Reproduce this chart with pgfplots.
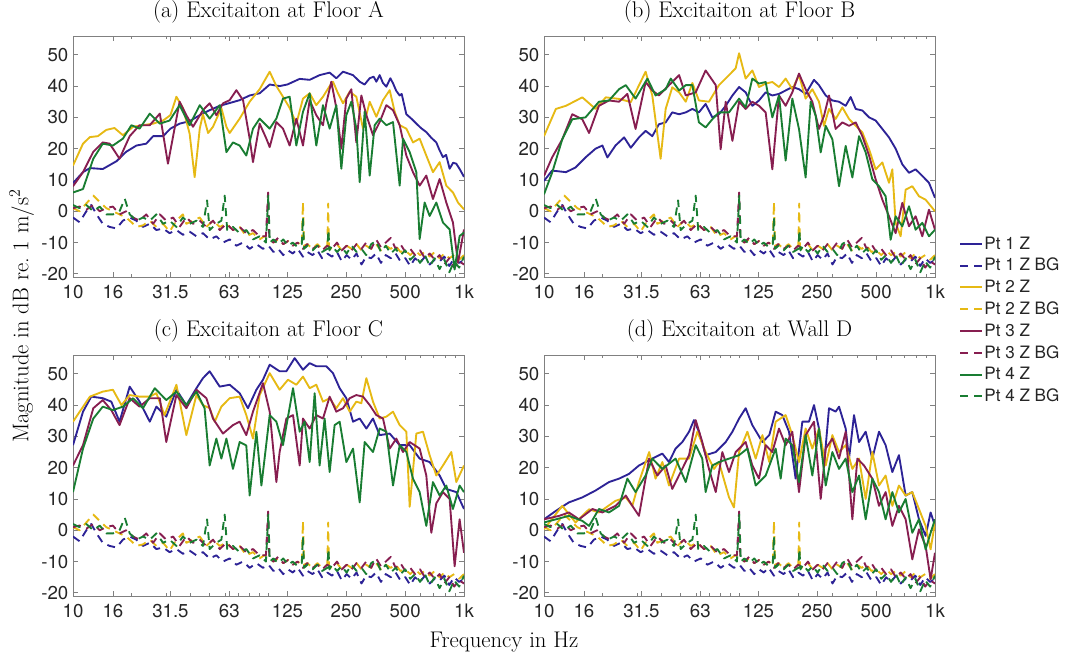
\documentclass[border=0pt]{standalone}
\usepackage{fontspec}
\newfontfamily\hv{TeX Gyre Heros}
\usepackage{pgfplots}
\usepackage{pgfplotstable}
\pgfplotsset{compat=1.18}
\definecolor{ptblue}{RGB}{45,35,150}
\definecolor{ptyellow}{RGB}{230,185,20}
\definecolor{ptmaroon}{RGB}{135,30,80}
\definecolor{ptgreen}{RGB}{25,125,50}

\pgfplotstableread{
f v
10 -2
10.8 -3.5
11.7 0
12.4 2
13.2 -1
14.2 -4
15.4 -5
16.7 -5.5
18 -3
19.5 -2
21.1 -3
22.8 -5
24.7 -4
26.7 -6
28.9 -5.5
31.2 -7
33.8 -6
36.5 -7.5
39.5 -6.5
42.8 -8
46.2 -7
50 -9
54.1 -8
58.5 -10
63.3 -9
68.5 -11
74.1 -10
80.1 -12
86.7 -10.5
93.7 -12
100 -11
106 -13
112 -12
119 -14
126 -12.5
133 -13.5
141 -12
150 -14.5
158 -13
168 -14
178 -12.5
188 -15
200 -13.5
211 -14.5
224 -13
237 -16
251 -14
266 -15.5
282 -13.5
299 -17
316 -14.5
335 -15
355 -13.5
376 -16.5
398 -14
422 -15
447 -13.5
473 -16
501 -15
531 -17.5
562 -15
596 -16.5
631 -14.5
668 -17
708 -15.5
750 -16
794 -14.5
841 -17.5
891 -15
944 -16.5
1000 -15.5
}\bgA

\pgfplotstableread{
f v
10 1
10.8 0
11.7 2.5
12.7 5
13.7 3
14.8 1
16 0
17.3 -1
18.7 -2
19.9 -3.5
21.1 -5
22.8 -4.5
24.7 -3
26.7 -5
28.9 -4
31.2 -6.5
33.8 -3
36.5 -1
38 -4
41.1 -3
44.5 -2
48.1 -5
52 -3
56.3 -5
60.9 -4
65.8 -6
71.2 -5
77 -8
83.3 -7
90.1 -9
95 -8
100 -8.5
106 -10
112 -9
119 -10.5
126 -9.5
133 -11
141 -10
148 -11
150 3
152 -11
158 -10.5
168 -12
178 -10.5
188 -12
200 -11
202 2.5
204 -11.5
211 -12
224 -10.5
237 -12.5
251 -11
266 -12
282 -10.5
299 -12.5
316 -11
335 -12
355 -10.5
376 -12.5
398 -11
422 -12
447 -11
473 -13
501 -12.5
531 -14
562 -12.5
596 -14
631 -13
668 -14.5
708 -13
750 -15
794 -13.5
841 -15
891 -14
944 -15.5
1000 -14
}\bgB

\pgfplotstableread{
f v
10 1
10.8 1.5
11.7 0.5
12.7 2
13.7 0
14.8 1
16 1.5
17.3 -1
18.7 0
20.3 -2
21.9 -3
23.7 -1
25.7 -4
27.8 -1
30 -3
32.5 -2
35.1 -5
38 -2
41.1 -4
44.5 -3
48.1 -5
52 -3
56.3 -6
60.9 -4
65.8 -6
71.2 -5
77 -7
83.3 -6
90.1 -8
97 -8
99.5 6
101 -9
106 -10
112 -8.5
119 -10.5
126 -9.5
133 -11
141 -10
150 -12
158 -10.5
168 -12
178 -11
188 -12.5
200 -11
211 -12
224 -10
237 -12.5
251 -11
266 -12.5
282 -10.5
299 -12
316 -10
335 -12
355 -9
376 -11.5
398 -10
422 -8.5
447 -12
473 -10.5
501 -13
531 -12
562 -14
596 -12.5
631 -15
668 -13.5
708 -15.5
750 -14
794 -17
841 -15
891 -18
944 -16
1000 -17
}\bgC

\pgfplotstableread{
f v
10 2
10.8 1
11.7 2
12.7 0
13.7 1.5
14.8 -1
16 -1
17.3 0
18.4 4
19.5 -1
21.1 -3
22.8 -2
24.7 -3
26.7 -1
28.9 -4
31.2 -3
33.8 -5
36.5 -2
39.5 -4
42.8 -3
46.2 -5
48.5 3.5
50 -6
54.1 -4
57.4 -3
59.7 5
61.5 -6
65.8 -5
71.2 -7
77 -6
83.3 -9
90.1 -8
97 -10
99.8 5
101.5 -10
106 -9
112 -10.5
119 -9
126 -11
133 -10
141 -11.5
148 -10.5
150 -2
152 -12
158 -11
168 -12.5
178 -11
188 -13
200 -12
202.5 -6
205 -12.5
211 -11
224 -13
237 -11.5
251 -13.5
266 -11
282 -13
299 -12
316 -14
335 -10.5
355 -9.5
376 -13
398 -11
422 -13.5
447 -12
473 -14
501 -12.5
531 -15.5
562 -14
596 -16.5
631 -14
668 -17.5
708 -15
750 -18.5
794 -15.5
841 -19.5
891 -16
944 -18
1000 -14.5
}\bgD

\tikzset{
  ptone/.style={draw=ptblue, solid, line width=1.4pt},
  bgone/.style={draw=ptblue, dash pattern=on 6pt off 4.5pt, line width=1.4pt},
  pttwo/.style={draw=ptyellow, solid, line width=1.4pt},
  bgtwo/.style={draw=ptyellow, dash pattern=on 6pt off 4.5pt, line width=1.4pt},
  ptthree/.style={draw=ptmaroon, solid, line width=1.4pt},
  bgthree/.style={draw=ptmaroon, dash pattern=on 6pt off 4.5pt, line width=1.4pt},
  ptfour/.style={draw=ptgreen, solid, line width=1.4pt},
  bgfour/.style={draw=ptgreen, dash pattern=on 6pt off 4.5pt, line width=1.4pt},
}
\pgfplotsset{
  scale only axis, width=293.25pt, height=180.75pt,
  xmin=10, xmax=1000, ymin=-21, ymax=56,
  xtick={10,16,31.5,63,125,250,500,1000},
  xticklabels={10,16,31.5,63,125,250,500,1k},
  minor xtick={20,30,40,50,60,70,80,90,100,200,300,400,600,700,800,900},
  ytick={-20,-10,0,10,20,30,40,50},
  yticklabels={-20,-10,0,10,20,30,40,50},
  tick align=inside, major tick length=3.5pt, minor tick length=2pt,
  axis line style={black!50, line width=0.6pt},
  tick style={black!50, line width=0.6pt},
  tick label style={font=\hv\fontsize{14}{16}\selectfont, text=black!85},
  xticklabel style={yshift=-2.5pt},
  title style={font=\fontsize{17}{20}\selectfont, at={(0.5,1)}, anchor=base, yshift=8pt},
  every axis plot/.append style={line width=1.4pt, line join=round},
}

\begin{document}
\begin{tikzpicture}
\useasboundingbox (0pt,0pt) rectangle (800.25pt,489.75pt);

% ---------------- (a)
\begin{semilogxaxis}[at={(54.75pt,282pt)}, anchor=south west, title={(a) Excitaiton at Floor A}]
\addplot[ptone] coordinates {(10,9) (11.25,12.5) (12.2,13.8) (14.2,13.5) (16.7,16) (18.7,19) (21.1,21) (23.7,21.6) (25.7,24) (28.9,24) (31.5,26.4) (35.1,28) (39.5,28.8) (44.5,30.7) (50,32.3) (56.3,33.7) (62.6,34.5) (71.2,35.5) (80.1,37) (90.1,37.7) (101.4,40.5) (114,40) (124.8,40.5) (144.4,42.3) (162.4,42) (182.6,43.5) (205.5,44.3) (222.3,42.5) (240.5,44.6) (270.6,43.5) (292.7,41.4) (310,40.5) (329.3,42.5) (345,43) (356.2,41.4) (370.4,43.5) (385,41) (400.7,39.8) (420,42.5) (433.4,40.9) (450,38.5) (468.8,37) (480,37.5) (507.1,31) (540,29.5) (570.4,28) (605,26.5) (641.5,25.3) (680,23.5) (721.7,22) (750,19.5) (780.6,17.3) (810,18) (844.3,13.6) (880,15.5) (913.2,15.2) (950,13.5) (1000,11)};
\addplot[bgone] table[x=f,y=v] {\bgA};
\addplot[pttwo] coordinates {(10,14.6) (11.25,21.6) (12.2,23.7) (13.4,24) (14.8,26) (16.3,26.6) (18,24.3) (20.3,27) (22.8,27.5) (25.7,28) (28.9,29) (31.5,30.7) (33.8,36.6) (36.5,33) (39.5,24.8) (41.9,10.9) (44.5,26.4) (46.2,31) (49.1,25) (52,27) (57.4,33) (60.9,27) (63.3,25) (71.2,29.6) (80.1,35) (90.1,39) (101.4,44.6) (109.7,40) (118.6,36.6) (128.3,33) (138.8,28) (150.1,36) (162.4,37.7) (175.6,33.9) (190,36.6) (205.5,40) (213.7,41.4) (226.7,37.7) (240.5,34.5) (260.2,38.2) (281.4,36.6) (304.4,26.4) (329.3,35) (356.2,30.2) (385.3,35.5) (416.8,38.7) (442,31.8) (468.8,27.5) (507.1,26.4) (548.4,22) (593.1,23.2) (641.5,17.8) (693.8,12.5) (750.5,15.7) (811.7,8.2) (878,6) (931.3,2.8) (1000,0.6)};
\addplot[bgtwo] table[x=f,y=v] {\bgB};
\addplot[ptthree] coordinates {(10,8) (11.25,12.5) (12.7,19) (14.2,22) (15.4,21.6) (17.3,16.8) (19.5,24) (21.9,27.5) (24.7,27.5) (27.8,31.2) (30.6,15.2) (35.1,35) (38,30.7) (41.1,27) (46.2,32.3) (50,34.5) (54.1,30.7) (58.5,34.5) (63.3,35.5) (68.5,38.7) (74.1,35.5) (80.1,23.2) (83.3,15.7) (90.1,28) (97.5,23.2) (101.4,20.5) (109.7,28.5) (118.6,26.4) (128.3,21) (138.8,29.6) (150.1,21) (162.4,35.5) (175.6,30.7) (190,27.5) (197.6,34.5) (209.6,41.4) (222.3,33) (235.8,20) (250.1,36) (265.3,39) (281.4,22) (298.5,37) (316.6,30.7) (342.4,24.3) (370.4,28.5) (400.7,33.9) (433.4,32.3) (468.8,27.5) (507.1,17.8) (548.4,12.5) (593.1,8.2) (641.5,11.4) (693.8,3.9) (750.5,10.3) (811.7,2.8) (878,-3.6) (931.3,-16.5) (1000,-5.8)};
\addplot[bgthree] table[x=f,y=v] {\bgC};
\addplot[ptfour] coordinates {(10,6) (11.25,7.1) (12.7,16.8) (14.2,21.6) (16,21) (18,23.2) (19.9,27.5) (21.9,26.4) (24.7,31.2) (27.8,28) (31.2,29) (35.1,33.9) (39.5,27.5) (44.5,33.9) (50,29.6) (56.3,33.9) (60.9,18.9) (65.8,22) (71.2,21) (77,17.8) (83.3,26.4) (90.1,29.6) (101.4,26.4) (109.7,29.6) (118.6,36) (128.3,36.6) (138.8,21) (150.1,31.8) (162.4,37.7) (175.6,21) (190,33.9) (205.5,26.4) (222.3,33.9) (235.8,13.6) (250.1,30.7) (265.3,35) (281.4,26.4) (292.7,9.3) (310.4,31.8) (329.3,11.4) (349.2,27.5) (370.4,29.6) (400.7,27.5) (433.4,28.5) (468.8,8.2) (487.6,23.2) (527.4,18.9) (570.4,12.5) (593.1,-8.9) (629,2.8) (667.2,-1.5) (721.7,2.8) (780.6,-3.6) (844.3,-5.8) (895.4,-18.6) (949.6,-7.9) (1000,-6.8)};
\addplot[bgfour] table[x=f,y=v] {\bgD};
\end{semilogxaxis}

% ---------------- (b)
\begin{semilogxaxis}[at={(408pt,282pt)}, anchor=south west, title={(b) Excitaiton at Floor B},
  legend style={at={(1.0614,0.1743)}, anchor=north west, draw=none, fill=none, inner sep=0pt,
    font=\hv\fontsize{12.8}{14}\selectfont, row sep=3.4pt, nodes={inner sep=1pt, text=black!85}},
  legend cell align=left,
  legend image code/.code={\draw[#1] (0pt,0pt) -- (16.5pt,0pt);}]
\addplot[ptone] coordinates {(10,9.7) (11,13) (12.95,12.5) (14.5,14) (16.3,17.2) (18.35,20) (19.9,21) (21.1,17.2) (23.2,21) (25.7,23.6) (27.8,20.3) (30.6,23.6) (33.1,25.7) (35.8,24) (38.7,27.8) (41.9,28.4) (45.3,31.6) (49.1,31) (53.1,31.6) (57.4,32.7) (62,31.6) (67.1,34.3) (72.6,30) (78.5,31) (85,33.7) (92,37) (99.5,39.7) (107.5,38) (116.3,33.7) (125.8,35.4) (136.1,38) (147.2,37) (159.2,37.5) (172.2,38.6) (186.3,39.7) (201.5,39) (217.9,37.5) (240.5,42) (255,40.3) (276,37) (298.5,35.4) (322.9,35) (349.2,33.7) (370.4,36.5) (393,32.7) (425,32.2) (460,30) (497,29) (537.8,26.3) (581.7,23.6) (629,20) (680.4,15) (736,12.3) (796,13.4) (861,11.3) (931.3,9.1) (1000,4.3)};
\addplot[bgone] table[x=f,y=v] {\bgA};
\addplot[pttwo] coordinates {(10,24) (11.5,32.7) (12.95,33.7) (15.7,36.4) (18.35,32.7) (20.7,36.4) (24.2,35.9) (27.8,34.9) (33.1,44.6) (35.8,37) (39.5,16.8) (41.9,32.7) (45.3,39.6) (49.1,38) (53.1,35) (57.4,41) (62,35.4) (69.8,35) (78.5,40.3) (88.4,43.5) (95.6,45.7) (99.5,50.5) (107.5,42.4) (116.3,45) (125.8,39.7) (136.1,40.8) (147.2,41.3) (159.2,39.7) (172.2,42.4) (186.3,39) (201.5,43.5) (217.9,36) (235.8,39) (255,35) (270.6,27.3) (287,32.7) (310.4,29.5) (335.8,33.2) (363.3,29.5) (393,27.3) (425,25.2) (460,19.8) (497,13.4) (537.8,15.6) (581.7,9.1) (605,13.4) (629,-3.7) (667.2,-8) (707.6,6.9) (765.5,8) (827.9,4.8) (895.4,3.7) (1000,0)};
\addplot[bgtwo] table[x=f,y=v] {\bgB};
\addplot[ptthree] coordinates {(10,11.3) (11,17.2) (12.4,23) (13.95,31) (15.7,29.4) (17,25) (19.1,33.7) (21.5,35.4) (24.2,35) (26.7,37.5) (29.4,26.3) (33.1,41.3) (35.8,38.6) (38.7,37) (43.6,40.3) (49.1,43.5) (53.1,37) (59.7,38) (67.1,45) (75.6,40.3) (80.1,19.8) (85,35) (92,22.5) (99.5,35) (107.5,32.7) (116.3,35) (125.8,33.7) (136.1,31.6) (147.2,13.4) (159.2,37) (172.2,33.7) (186.3,38) (201.5,44) (217.9,39) (235.8,35) (255,26.3) (270.6,30.5) (287,37) (310.4,26.3) (335.8,28.4) (363.3,27.3) (393,28.4) (425,24) (460,17.8) (497,10.2) (537.8,3.7) (581.7,-1.6) (629,-7) (680.4,2.7) (736,-4.8) (796,-1.6) (861,-8) (931.3,0.5) (1000,-5.9)};
\addplot[bgthree] table[x=f,y=v] {\bgC};
\addplot[ptfour] coordinates {(10,5.4) (11,12.3) (12.4,23) (13.95,29.4) (16.3,30) (19.1,35) (21.5,35.4) (24.2,39) (26.2,40.3) (29.4,36) (33.8,42.4) (37.2,37) (41.9,39) (44.5,42.4) (49.1,38.6) (53.1,40.3) (57.4,40.3) (62,28.4) (67.1,26.8) (72.6,29.4) (78.5,31.6) (88.4,31.6) (99.5,36) (107.5,33.2) (116.3,42.4) (125.8,40.8) (136.1,41.3) (147.2,30) (159.2,37) (172.2,16.2) (186.3,36) (201.5,26.3) (217.9,10.8) (231.2,35) (245.3,30.5) (260.2,18.8) (276,27.3) (298.5,23) (322.9,8) (349.2,20.9) (377.8,10.8) (408.7,24) (442,18.8) (478,10.2) (517,8) (559,4.8) (593.1,-9.1) (629,-1.6) (680.4,-4.8) (736,1.6) (796,-5.9) (861,-3.7) (931.3,-8) (1000,-5.9)};
\addplot[bgfour] table[x=f,y=v] {\bgD};
\legend{Pt 1 Z, Pt 1 Z BG, Pt 2 Z, Pt 2 Z BG, Pt 3 Z, Pt 3 Z BG, Pt 4 Z, Pt 4 Z BG}
\end{semilogxaxis}

% ---------------- (c)
\begin{semilogxaxis}[at={(54.75pt,42.75pt)}, anchor=south west, title={(c) Excitaiton at Floor C}]
\addplot[ptone] coordinates {(10,27.2) (11.25,37.9) (12.4,42.7) (14.2,42.2) (15.7,41.1) (17.3,34.7) (19.5,45.9) (21.9,41.1) (24.7,34.7) (26.7,39.5) (30,36.3) (33.8,44.9) (38,40) (42.8,45.4) (46.2,48.6) (50,50.8) (56.3,45.9) (63.3,46.5) (71.2,43.8) (78.5,39) (86.7,44.9) (93.7,48.1) (101.4,52.9) (114,50.8) (123.4,50.8) (136.1,55) (150.1,51.3) (162.4,53.4) (175.6,52.4) (197.6,52.4) (213.7,50.2) (231.2,45.4) (250.1,42.2) (270.6,34.7) (292.7,35.7) (316.6,32.5) (342.4,35.7) (370.4,30.4) (416.8,30.9) (468.8,27.2) (527.4,27.2) (593.1,22.9) (667.2,21.8) (750.5,17.5) (811.7,13.2) (913.2,12.2) (1000,6.8)};
\addplot[bgone] table[x=f,y=v] {\bgA};
\addplot[pttwo] coordinates {(10,34.7) (12.2,42.7) (14.2,44.3) (16,44.9) (17.7,40) (19.5,43.2) (21.9,42.7) (24.7,42.7) (26.7,43.8) (29.4,36.8) (33.8,46.5) (38,30.4) (42.8,43.2) (46.2,40) (50,39) (53.1,34.7) (57.4,39.5) (63.3,42.2) (71.2,42.7) (77,36.8) (83.3,29.3) (90.1,43.2) (101.4,50.2) (114,44.9) (125.8,48.1) (138.8,46.5) (150.1,49.1) (162.4,45.4) (175.6,46.5) (190,41.1) (205.5,42.2) (222.3,39) (240.5,42.2) (260.2,37.9) (281.4,41.1) (298.5,40.6) (316.6,48.6) (342.4,41.1) (370.4,35.7) (400.7,36.3) (433.4,37.9) (468.8,33.6) (507.1,31.5) (527.4,7.5) (570.4,30.9) (616.9,31.5) (667.2,24) (721.7,17.5) (780.6,20.7) (861,25) (913.2,15.4) (1000,20.7)};
\addplot[bgtwo] table[x=f,y=v] {\bgB};
\addplot[ptthree] coordinates {(10,20.7) (11.25,27.2) (12.7,39) (14.2,41.6) (15.7,38.4) (17.3,33.6) (19.5,42.2) (21.9,39.5) (24.7,42.2) (27.8,42.2) (30,28.2) (33.8,43.2) (38,39) (42.8,44.9) (48.1,42.2) (52,35.7) (58.5,30.9) (65.8,33.6) (71.2,34.7) (77,30.4) (83.3,37.9) (93.7,47) (101.4,37.9) (109.7,15.4) (114,25) (123.4,35.7) (133.5,36.8) (144.4,20.7) (150.1,35.7) (162.4,32.5) (175.6,36.8) (190,35.7) (205.5,42.7) (222.3,37.9) (240.5,39) (260.2,42.2) (281.4,43.2) (304.4,42.7) (329.3,40) (356.2,36.8) (385.3,35.7) (416.8,26.1) (450.8,29.3) (487.6,25) (527.4,28.2) (593.1,26.1) (641.5,17.5) (680.4,-0.8) (721.7,8.6) (780.6,12.2) (844.3,10) (895.4,-11.5) (949.6,3.5) (1000,-7.2)};
\addplot[bgthree] table[x=f,y=v] {\bgC};
\addplot[ptfour] coordinates {(10,12.2) (11.25,26.1) (12.7,35.7) (14.2,39.5) (16,38.4) (18,39.5) (20.3,42.2) (22.8,39) (26.2,45.4) (30,41.6) (33.8,44.3) (38,40) (42.8,44.3) (47.1,39) (50,20.7) (54.1,29.3) (57.4,22.9) (60.9,29.3) (65.8,19.6) (71.2,28.2) (77,27.1) (80.1,11.1) (86.7,31.5) (92,14.3) (101.4,36.8) (109.7,34.7) (118.6,27.2) (133.5,45.4) (144.4,31.5) (153.1,34.7) (162.4,21.8) (172.2,43.8) (182.6,20.7) (193.7,35.7) (205.5,18.6) (217.9,33.6) (231.2,34.7) (250.1,21.8) (270.6,26.1) (292.7,8.9) (310.4,28.2) (342.4,25) (370.4,32.5) (400.7,31.5) (433.4,14.3) (468.8,27.2) (507.1,25) (548.4,16.5) (593.1,12.2) (641.5,1.4) (693.8,15.4) (750.5,11.1) (811.7,14.3) (878,6.8) (949.6,14.3) (1000,12.2)};
\addplot[bgfour] table[x=f,y=v] {\bgD};
\end{semilogxaxis}

% ---------------- (d)
\begin{semilogxaxis}[at={(408pt,42.75pt)}, anchor=south west, title={(d) Excitaiton at Wall D}]
\addplot[ptone] coordinates {(10,3.5) (11.5,6.2) (13.4,8.9) (15.7,10.5) (18.35,12.7) (21.5,15.4) (24.2,16.5) (27.2,18) (30.6,20.7) (35.8,22.9) (40.3,24.5) (43.6,21.8) (47.1,26.1) (51,28.2) (55.2,31.5) (58.5,35.2) (62,31.5) (67.1,24) (75.6,25) (85,28.2) (92,31.5) (99.5,35.7) (107.5,39) (116.3,33.6) (131,28.2) (142,30.4) (153.1,37.9) (165.6,36.8) (179.1,31.5) (193.7,16.5) (209.6,34.7) (226.7,34.7) (240.5,40) (255,32.5) (270.6,20.7) (287,39) (310.4,37.9) (322.9,39.5) (349.2,32.5) (363.3,22.9) (385.3,36.8) (408.7,28.2) (442,31.5) (478,22.9) (517,31.5) (559,27.2) (605,18.6) (654,24) (707.6,11.1) (765.5,12.2) (827.9,3.5) (895.4,-1.8) (949.6,5.7) (1000,1.4)};
\addplot[bgone] table[x=f,y=v] {\bgA};
\addplot[pttwo] coordinates {(10,0.3) (12.4,7.8) (14.5,2.5) (17,6.7) (19.1,5.7) (23.2,9.4) (26.2,10.5) (28.3,7.8) (30.6,15.4) (34.5,25) (37.2,16.5) (40.3,21.8) (43.6,14.3) (49.1,22.9) (55.2,22.9) (60.9,31.5) (67.1,25) (74.1,19.6) (78.5,21.8) (88.4,10.5) (93.7,7.3) (99.5,25) (109.7,31.5) (121,22.9) (131,30.4) (142,21.8) (153.1,34.7) (172.2,36.8) (186.3,30.4) (201.5,21.8) (217.9,32.5) (235.8,26.1) (255,32.5) (276,20.7) (298.5,30.4) (322.9,25) (349.2,27.2) (377.8,19.6) (408.7,22.9) (442,10) (478,25) (517,14.3) (559,17.5) (605,7.8) (654,14.3) (707.6,11.1) (765.5,12.2) (827.9,6.8) (895.4,1.4) (949.6,-6.1) (1000,2.5)};
\addplot[bgtwo] table[x=f,y=v] {\bgB};
\addplot[ptthree] coordinates {(10,3.5) (11.95,4.6) (13.4,5.7) (15.1,3.5) (17.7,6.8) (19.9,5.7) (23.2,7.8) (26.2,11.1) (28.3,7.8) (30.6,4.6) (34.5,22.9) (38,17.5) (41.9,20.7) (45.3,13.2) (50,18.6) (55.2,24) (59.7,35.2) (64.5,28.2) (69.8,19.6) (75.6,12.2) (81.7,25) (88.4,18.6) (95.6,25) (107.5,28.2) (116.3,20.7) (125.8,16.5) (136.1,27.2) (147.2,25) (159.2,32.5) (172.2,27.2) (186.3,31.5) (201.5,12.2) (217.9,30.4) (240.5,34.7) (260.2,10) (276,26.1) (298.5,29.3) (322.9,22.9) (349.2,31.5) (377.8,3.5) (400.7,22.9) (433.4,20.7) (478,16.5) (517,7.8) (559,12.2) (605,1.4) (654,7.8) (707.6,3.5) (765.5,-9.3) (827.9,0.3) (895.4,-5) (949.6,-15.7) (1000,-7.2)};
\addplot[bgthree] table[x=f,y=v] {\bgC};
\addplot[ptfour] coordinates {(10,2.5) (11.5,3.5) (13.4,4.6) (15.7,3) (17,1.4) (19.1,6.8) (21.5,5.7) (24.2,7.8) (26.7,16.5) (29.4,12.2) (33.1,17.5) (35.8,22.9) (40.3,19.6) (47.1,22.9) (53.1,15.4) (59.7,27.2) (64.5,22.9) (67.1,12.2) (72.6,20.7) (78.5,21.8) (88.4,22.9) (99.5,24) (109.7,26.1) (121,14.3) (136.1,17.5) (153.1,26.1) (162.4,16.5) (172.2,29.3) (186.3,27.2) (201.5,15.4) (217.9,30.4) (235.8,17.5) (255,32.5) (276,14.3) (298.5,25) (322.9,19.6) (349.2,22.9) (377.8,12.2) (408.7,17.5) (442,3.5) (478,16.5) (517,12.2) (559,3.5) (605,12.2) (654,5.7) (707.6,10) (765.5,-0.8) (827.9,3.5) (895.4,-6.1) (949.6,-0.8) (1000,3.5)};
\addplot[bgfour] table[x=f,y=v] {\bgD};
\end{semilogxaxis}

\node[rotate=90, anchor=base, font=\fontsize{17}{20}\selectfont] at (21.2pt,252.75pt) {Magnitude in dB re.\ 1 m/s$^2$};
\node[anchor=base, font=\fontsize{17}{20}\selectfont] at (378pt,4.5pt) {Frequency in Hz};
\end{tikzpicture}
\end{document}
